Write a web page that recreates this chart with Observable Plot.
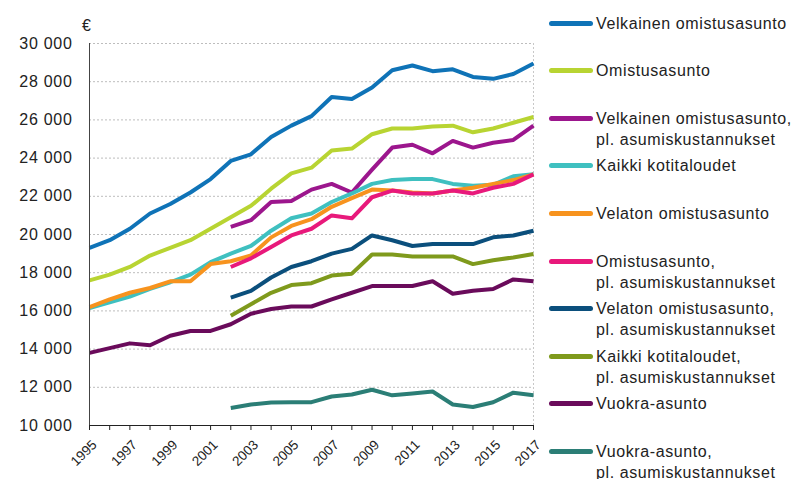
<!DOCTYPE html>
<html>
<head>
<meta charset="utf-8">
<script src="https://cdn.jsdelivr.net/npm/d3@7"></script>
<script src="https://cdn.jsdelivr.net/npm/@observablehq/plot@0.6"></script>
<style>
  html, body { margin: 0; padding: 0; background: #fff; }
  #wrap { position: relative; width: 793px; height: 479px; overflow: hidden; font-family: "Liberation Sans", Arial, sans-serif; }
  #chart { position: absolute; left: 0; top: 0; }
  #legend { position: absolute; left: 549px; top: 0; }
  .item { position: absolute; left: 0; display: flex; align-items: flex-start; }
  .sw { width: 44px; height: 5px; border-radius: 3px; margin-top: 8px; flex: none; }
  .lab { margin-left: 3px; font-size: 16px; line-height: 21px; color: #222; white-space: pre; letter-spacing: 0.6px; }
  #euro { position: absolute; left: 82px; top: 17px; font-size: 16px; color: #222; }
  #chart g[aria-label="y-axis tick label"] text { letter-spacing: 0.7px; }
</style>
</head>
<body>
<div id="wrap">
  <div id="chart"></div>
  <div id="euro">€</div>
  <div id="legend"></div>
</div>
<script>
// ---- data ----
const yearsAll = d3.range(1995, 2018);
const years2002 = d3.range(2002, 2018);

const seriesNames = [
  "Velkainen omistusasunto",
  "Omistusasunto",
  "Velkainen omistusasunto,\npl. asumiskustannukset",
  "Kaikki kotitaloudet",
  "Velaton omistusasunto",
  "Omistusasunto,\npl. asumiskustannukset",
  "Velaton omistusasunto,\npl. asumiskustannukset",
  "Kaikki kotitaloudet,\npl. asumiskustannukset",
  "Vuokra-asunto",
  "Vuokra-asunto,\npl. asumiskustannukset"
];
const seriesColors = ["#0f73b7", "#b8d432", "#9c168d", "#3fc0c0", "#f7931e", "#e8197b", "#0b4f7c", "#7f9a1c", "#6a0b5b", "#2b7e76"];

const velkainen = [19300, 19700, 20300, 21100, 21600, 22200, 22900, 23850, 24200, 25100, 25700, 26200, 27200, 27100, 27700, 28600, 28850, 28550, 28650, 28250, 28150, 28400, 28950];
const omistus = [17600, 17900, 18300, 18900, 19300, 19700, 20300, 20900, 21500, 22400, 23200, 23500, 24400, 24500, 25250, 25550, 25550, 25650, 25700, 25350, 25550, 25850, 26150];
const velkainenPl = [20400, 20750, 21700, 21750, 22350, 22650, 22200, 23400, 24550, 24700, 24250, 24900, 24550, 24800, 24950, 25700];
const kaikki = [16150, 16450, 16750, 17150, 17500, 17900, 18550, 19000, 19400, 20200, 20850, 21100, 21700, 22150, 22650, 22850, 22900, 22900, 22650, 22550, 22600, 23050, 23150];
const velaton = [16200, 16600, 16950, 17200, 17550, 17550, 18450, 18600, 18900, 19850, 20450, 20800, 21450, 21900, 22350, 22300, 22200, 22150, 22300, 22450, 22650, 22850, 23150];
const omistusPl = [18300, 18750, 19350, 19950, 20300, 21000, 20850, 21950, 22300, 22150, 22150, 22300, 22150, 22450, 22650, 23150];
const velatonPl = [16700, 17050, 17750, 18300, 18600, 19000, 19250, 19950, 19700, 19400, 19500, 19500, 19500, 19850, 19950, 20200];
const kaikkiPl = [15750, 16350, 16950, 17350, 17450, 17850, 17950, 18950, 18950, 18850, 18850, 18850, 18450, 18650, 18800, 18980];
const vuokra = [13800, 14050, 14300, 14200, 14700, 14950, 14950, 15300, 15850, 16100, 16230, 16230, 16600, 16950, 17300, 17300, 17300, 17550, 16900, 17050, 17150, 17650, 17550];
const vuokraPl = [10920, 11100, 11200, 11220, 11220, 11520, 11620, 11870, 11580, 11680, 11780, 11100, 10970, 11220, 11720, 11580];

const yTicks = d3.range(10000, 30001, 2000);
const xTicksAll = d3.range(1995, 2018);
const xTickLabels = d3.range(1995, 2018, 2);

// ---- build table ----
const seriesValues = [velkainen, omistus, velkainenPl, kaikki, velaton, omistusPl, velatonPl, kaikkiPl, vuokra, vuokraPl];
const rows = [];
seriesValues.forEach((vals, i) => {
  const yrs = vals.length === yearsAll.length ? yearsAll : years2002;
  vals.forEach((v, j) => rows.push({series: seriesNames[i], year: yrs[j], value: v}));
});

const fmt = d => d3.format(",")(d).replace(/,/g, " ");

const chart = Plot.plot({
  width: 545,
  height: 479,
  marginLeft: 89,
  marginRight: 12,
  marginTop: 43,
  marginBottom: 54,
  style: {fontFamily: "Liberation Sans, Arial, sans-serif", color: "#222", background: "#fff"},
  x: {type: "linear", domain: [1995, 2017]},
  y: {domain: [10000, 30000]},
  color: {domain: seriesNames, range: seriesColors},
  marks: [
    Plot.gridY(yTicks, {stroke: "#bdbdbd", strokeOpacity: 1, strokeDasharray: "2,2"}),
    Plot.ruleX([2017], {stroke: "#c8c8c8", strokeDasharray: "2,2"}),
    Plot.axisY(yTicks, {tickFormat: fmt, tickSize: 0, tickPadding: 17, fontSize: 16, label: null}),
    Plot.axisX(xTicksAll, {tickFormat: () => "", tickSize: 5, label: null, stroke: "#222"}),
    Plot.axisX(xTickLabels, {tickFormat: d => String(d), tickSize: 0, tickPadding: 17, tickRotate: -45, fontSize: 13.5, label: null, dx: 5}),
    Plot.line(rows, {x: "year", y: "value", z: "series", stroke: "series", strokeWidth: 4, strokeLinejoin: "round", strokeLinecap: "butt"}),
    Plot.ruleX([1995], {stroke: "#444", strokeWidth: 1}),
    Plot.ruleY([10000], {stroke: "#222", strokeWidth: 1.2})
  ]
});
document.getElementById("chart").appendChild(chart);

// ---- legend ----
const legend = document.getElementById("legend");
seriesNames.forEach((name, i) => {
  const item = document.createElement("div");
  item.className = "item";
  item.style.top = (12.5 + i * 47.6) + "px";
  const sw = document.createElement("div");
  sw.className = "sw";
  sw.style.background = seriesColors[i];
  const lab = document.createElement("div");
  lab.className = "lab";
  lab.textContent = name;
  item.appendChild(sw);
  item.appendChild(lab);
  legend.appendChild(item);
});
</script>
</body>
</html>
